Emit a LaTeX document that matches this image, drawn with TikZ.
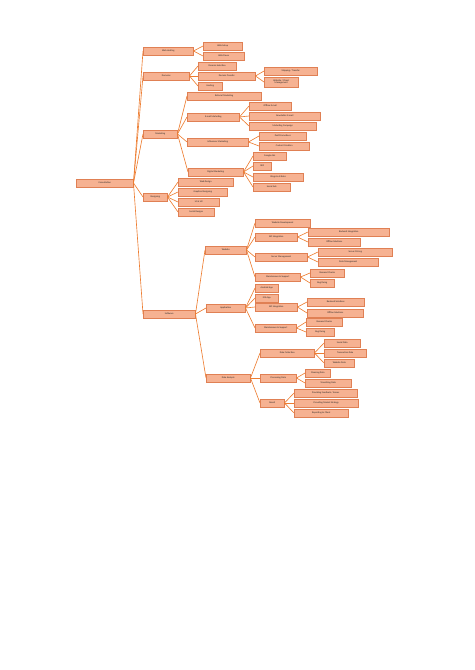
\documentclass[tikz,border=0pt]{standalone}
\usepackage{fontspec}
\setmainfont{Carlito}
\newlength\pxu
\setlength\pxu{1.2559pt}
\definecolor{boxfill}{RGB}{246,178,146}
\definecolor{boxline}{RGB}{224,128,84}
\definecolor{linkc}{RGB}{237,125,49}
\tikzset{
  bx/.style={draw=boxline, fill=boxfill, line width=0.6pt, anchor=west, inner sep=0pt,
    minimum height=8\pxu, align=center, font=\fontsize{3}{3.4}\selectfont, text=black!85},
  lk/.style={draw=linkc, line width=0.8pt}
}
\newcommand\bx[5]{\node[bx, minimum width=#4\pxu] (#1) at (#2,#3) {#5};}
\begin{document}
\begin{tikzpicture}[x=1.2559pt, y=-1.2559pt]
\useasboundingbox (0,0) rectangle (474,670);
% root and level 1
\bx{root}{76}{183}{57}{Consultation}
\bx{webhost}{143}{51}{50}{Web Hosting}
\bx{domains}{143}{76}{46}{Domains}
\bx{marketing}{143}{134}{34}{Marketing}
\bx{designing}{143}{197}{24}{Designing}
\bx{software}{143}{314}{52}{Software}
% web hosting
\bx{websetup}{203}{46}{39}{Web Setup}
\bx{webpause}{203}{56}{41}{Web Pause}
% domains
\bx{domsel}{198}{66}{38}{Domain Selection}
\bx{domtr}{198}{76}{57}{Domain Transfer}
\bx{hosting}{198}{86}{24}{Hosting}
\bx{shipping}{264}{71}{53}{Shipping / Transfer}
\node[bx, minimum width=34\pxu, minimum height=10\pxu] (clientmgmt) at (264,82) {Website / Client\\Management};
% marketing
\bx{referral}{187}{96}{74}{Referral Marketing}
\bx{email}{187}{117}{52}{E-mail Marketing}
\bx{influencer}{187}{142}{61}{Influencer Marketing}
\bx{digital}{188}{172}{55}{Digital Marketing}
\bx{offmail}{249}{106}{42}{Offline E-mail}
\bx{newsletter}{249}{116}{71}{Newsletter E-mail}
\bx{campaign}{249}{126}{67}{Marketing Campaign}
\bx{paidpromo}{259}{136}{47}{Paid Promotions}
\bx{content}{259}{146}{50}{Content Creation}
\bx{googleads}{253}{156}{33}{Google Ads}
\bx{seo}{253}{166}{18}{SEO}
\bx{blogs}{253}{177}{50}{Blogs \& Articles}
\bx{socialads}{253}{187}{37}{Social Ads}
% designing
\bx{webdesign}{178}{182}{55}{Web Design}
\bx{graphics}{178}{192}{49}{Graphics Designing}
\bx{uiux}{178}{202}{41}{UI \& UX}
\bx{socdesign}{178}{212}{36}{Social Designs}
% software
\bx{website}{205}{250}{41}{Website}
\bx{application}{206}{308}{39}{Application}
\bx{dataana}{206}{378}{44}{Data Analysis}
% website
\bx{webdev}{255}{223}{55}{Website Development}
\bx{apiw}{255}{237}{42}{API Integration}
\bx{server}{255}{257}{52}{Server Management}
\bx{maintw}{255}{277}{45}{Maintenance \& Support}
\bx{backendw}{308}{232}{81}{Backend Integration}
\bx{offlinew}{308}{242}{52}{Offline Solutions}
\bx{serverprice}{318}{252}{74}{Server Pricing}
\bx{datamgmt}{318}{262}{60}{Data Management}
\bx{demandw}{310}{273}{34}{Demand Checks}
\bx{bugw}{310}{283}{24}{Bug Fixing}
% application
\bx{android}{255}{288}{23}{Android App}
\bx{ios}{255}{298}{23}{iOS App}
\bx{apia}{255}{307}{42}{API Integration}
\bx{mainta}{255}{328}{41}{Maintenance \& Support}
\bx{backenda}{307}{302}{57}{Backend Solutions}
\bx{offlinea}{307}{313}{56}{Offline Solutions}
\bx{demanda}{306}{322}{36}{Demand Checks}
\bx{buga}{306}{332}{28}{Bug Fixing}
% data analysis
\bx{collect}{260}{353}{54}{Data Collection}
\bx{process}{260}{378}{36}{Processing Data}
\bx{result}{260}{403}{24}{Result}
\bx{socdata}{324}{343}{36}{Social Data}
\bx{transdata}{324}{353}{42}{Transaction Data}
\bx{webdata}{324}{363}{30}{Website Data}
\bx{cleaning}{305}{373}{25}{Cleaning Data}
\bx{visual}{305}{383}{46}{Visualizing Data}
\bx{feedback}{294}{393}{63}{Providing Feedback / Scores}
\bx{strategy}{294}{403}{64}{Providing Market Strategy}
\bx{reporting}{294}{413}{54}{Reporting to Client}
% connectors
\foreach \p/\c in {root/webhost, root/domains, root/marketing, root/designing, root/software,
  webhost/websetup, webhost/webpause,
  domains/domsel, domains/domtr, domains/hosting,
  domtr/shipping, domtr/clientmgmt,
  marketing/referral, marketing/email, marketing/influencer, marketing/digital,
  email/offmail, email/newsletter, email/campaign,
  influencer/paidpromo, influencer/content,
  digital/googleads, digital/seo, digital/blogs, digital/socialads,
  designing/webdesign, designing/graphics, designing/uiux, designing/socdesign,
  software/website, software/application, software/dataana,
  website/webdev, website/apiw, website/server, website/maintw,
  apiw/backendw, apiw/offlinew, server/serverprice, server/datamgmt,
  maintw/demandw, maintw/bugw,
  application/android, application/ios, application/apia, application/mainta,
  apia/backenda, apia/offlinea, mainta/demanda, mainta/buga,
  dataana/collect, dataana/process, dataana/result,
  collect/socdata, collect/transdata, collect/webdata,
  process/cleaning, process/visual,
  result/feedback, result/strategy, result/reporting}
  \draw[lk] (\p.east) -- (\c.west);
\end{tikzpicture}
\end{document}
